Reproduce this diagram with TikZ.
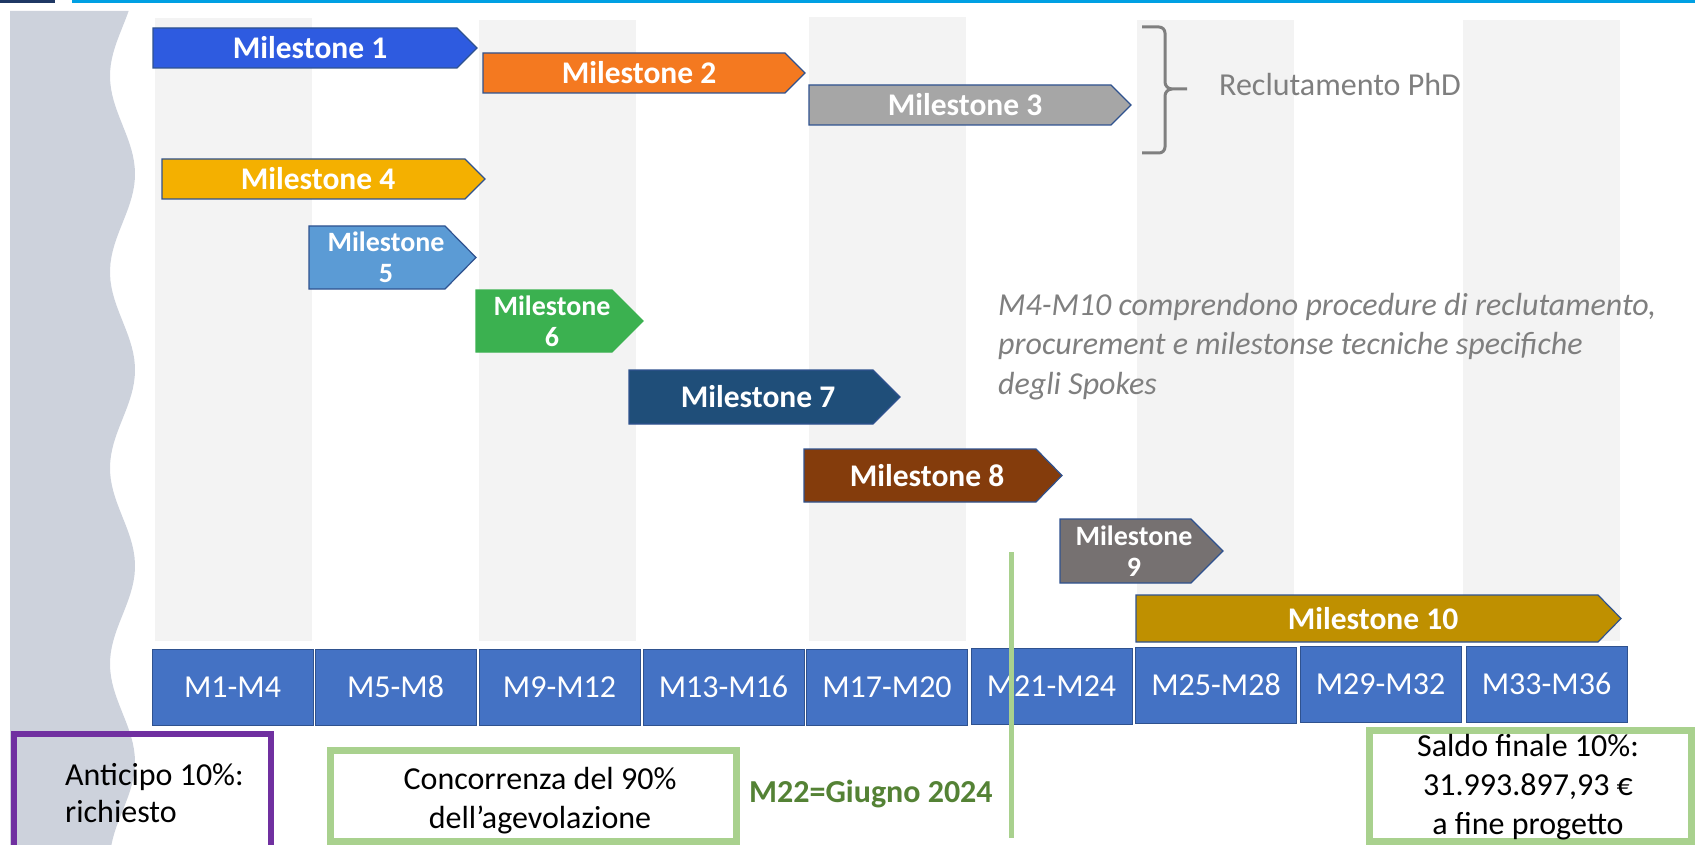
\documentclass[tikz,border=0pt]{standalone}
\usepackage{fontspec}
\setmainfont{Carlito}
\usepackage{tikz}
\definecolor{barnavy}{RGB}{31,56,100}
\definecolor{barcyan}{RGB}{0,160,227}
\definecolor{wavegrey}{RGB}{205,210,220}
\definecolor{stripegrey}{RGB}{243,243,243}
\definecolor{periodblue}{RGB}{68,114,196}
\definecolor{periodline}{RGB}{47,82,143}
\definecolor{msone}{RGB}{46,91,224}
\definecolor{mstwo}{RGB}{244,121,32}
\definecolor{msthree}{RGB}{166,166,166}
\definecolor{msfour}{RGB}{244,176,0}
\definecolor{msfive}{RGB}{91,155,213}
\definecolor{mssix}{RGB}{59,177,80}
\definecolor{msseven}{RGB}{31,78,121}
\definecolor{mseight}{RGB}{132,60,12}
\definecolor{msnine}{RGB}{118,113,113}
\definecolor{msten}{RGB}{191,144,0}
\definecolor{notegrey}{RGB}{127,127,127}
\definecolor{paygreen}{RGB}{169,209,142}
\definecolor{datagreen}{RGB}{84,130,53}
\definecolor{paypurple}{RGB}{112,48,160}
\tikzset{
msbar/.style={draw=periodline, line width=1.2pt},
mslabel/.style={text=white, inner sep=0pt, font=\bfseries\fontsize{31.5}{36}\selectfont},
mslabeltwo/.style={text=white, inner sep=0pt, align=center, font=\bfseries\fontsize{28}{31}\selectfont},
period/.style={draw=periodline, line width=1pt, fill=periodblue, text=white, minimum width=161pt, minimum height=76pt, inner sep=0pt, font=\fontsize{32}{38}\selectfont},
paybox/.style={line width=6.5pt},
paytext/.style={align=center, inner sep=0pt, font=\fontsize{32}{39}\selectfont},
notetext/.style={text=notegrey, inner sep=0pt, font=\fontsize{32}{39.5}\selectfont}
}

\begin{document}
\begin{tikzpicture}[x=1pt, y=-1pt]

                \useasboundingbox (0,0) rectangle (1695,845);
                \clip (0,0) rectangle (1695,845);

                \fill[barnavy] (0,0) rectangle (55,3);
                \fill[barcyan] (72,0) rectangle (1695,3);
                \fill[wavegrey] (10,11) -- plot[domain=11:845, samples=140, variable=\t] ({122.5+12.5*cos((\t-174)*1.83673)}, \t) -- (10,845) -- cycle;

                \fill[stripegrey] (155,18) rectangle (312,641);
                \fill[stripegrey] (479,20) rectangle (636,641);
                \fill[stripegrey] (809,17) rectangle (966,641);
                \fill[stripegrey] (1137,20) rectangle (1294,641);
                \fill[stripegrey] (1463,20) rectangle (1620,641);

                \filldraw[msbar, fill=msone] (153,28) -- (457,28) -- (477,48) -- (457,68) -- (153,68) -- cycle;
                \node[mslabel] (ms1) at (310,48) {Milestone 1};
                \filldraw[msbar, fill=mstwo] (483,53) -- (785,53) -- (805,73) -- (785,93) -- (483,93) -- cycle;
                \node[mslabel] (ms2) at (639,73) {Milestone 2};
                \filldraw[msbar, fill=msthree] (809,85) -- (1111,85) -- (1131,105) -- (1111,125) -- (809,125) -- cycle;
                \node[mslabel] (ms3) at (965,105) {Milestone 3};
                \filldraw[msbar, fill=msfour] (162,159) -- (465,159) -- (485,179) -- (465,199) -- (162,199) -- cycle;
                \node[mslabel] (ms4) at (318,179) {Milestone 4};
                \filldraw[msbar, fill=msfive] (309,226) -- (445,226) -- (476,257.5) -- (445,289) -- (309,289) -- cycle;
                \node[mslabeltwo] (ms5) at (386,257.5) {Milestone\\5};
                \filldraw[msbar, draw=mssix, fill=mssix] (476,290) -- (612,290) -- (643,321) -- (612,352) -- (476,352) -- cycle;
                \node[mslabeltwo] (ms6) at (552,321) {Milestone\\6};
                \filldraw[msbar, fill=msseven] (629,370) -- (873,370) -- (900,397) -- (873,424) -- (629,424) -- cycle;
                \node[mslabel] (ms7) at (758,397) {Milestone 7};
                \filldraw[msbar, fill=mseight] (804,449) -- (1036,449) -- (1062,475.5) -- (1036,502) -- (804,502) -- cycle;
                \node[mslabel] (ms8) at (927,475.5) {Milestone 8};
                \filldraw[msbar, fill=msnine] (1060,519) -- (1191,519) -- (1223,551) -- (1191,583) -- (1060,583) -- cycle;
                \node[mslabeltwo] (ms9) at (1134,551) {Milestone\\9};
                \filldraw[msbar, fill=msten] (1136,595) -- (1598,595) -- (1621,618.5) -- (1598,642) -- (1136,642) -- cycle;
                \node[mslabel] (ms10) at (1373,618.5) {Milestone 10};

                \draw[notegrey, line width=3pt] (1142,27) -- (1159,27) to[out=0, in=90] (1165,33) -- (1165,82) to[out=-90, in=180] (1172,89) -- (1187,89);
                \draw[notegrey, line width=3pt] (1142,153) -- (1159,153) to[out=0, in=-90] (1165,147) -- (1165,96) to[out=90, in=180] (1172,89);
                \node[notetext, anchor=base west] (phd) at (1219,96) {Reclutamento PhD};
                \node[notetext, anchor=west, align=left, font=\itshape\fontsize{32}{39.5}\selectfont] (note) at (998,346.5) {M4-M10 comprendono procedure di reclutamento,\\procurement e milestonse tecniche specifiche\\degli Spokes};

                \node[period] (p1) at (232.5,687) {M1-M4};
                \node[period] (p2) at (395.5,687) {M5-M8};
                \node[period] (p3) at (559.5,687) {M9-M12};
                \node[period] (p4) at (723.5,687) {M13-M16};
                \node[period] (p5) at (887,687) {M17-M20};
                \node[period] (p6) at (1051.5,686) {M21-M24};
                \node[period] (p7) at (1216,685) {M25-M28};
                \node[period] (p8) at (1380.5,684) {M29-M32};
                \node[period] (p9) at (1546.5,684) {M33-M36};

                \coordinate (m22top) at (1011,552);
                \coordinate (m22bot) at (1011,838);
                \draw[paygreen, line width=5pt] (m22top) -- (m22bot);
                \node[anchor=base west, inner sep=0pt, text=datagreen, font=\bfseries\fontsize{32}{39}\selectfont] (m22) at (749,802) {M22=Giugno 2024};

                \draw[paybox, paypurple] (14,734) rectangle (271,900);
                \node[paytext, align=left, anchor=west, font=\fontsize{32}{37}\selectfont] (anticipo) at (65,793) {Anticipo 10\%:\\richiesto};
                \draw[paybox, paygreen] (330.5,750.5) rectangle (736.5,841.5);
                \node[paytext] (concorrenza) at (540,801) {Concorrenza del 90\%\\dell’agevolazione};
                \draw[paybox, paygreen] (1369.5,730.5) rectangle (1691.5,841.5);
                \node[paytext] (saldo) at (1528,787) {Saldo finale 10\%:\\31.993.897,93 €\\a fine progetto};

            \end{tikzpicture}
\end{document}
